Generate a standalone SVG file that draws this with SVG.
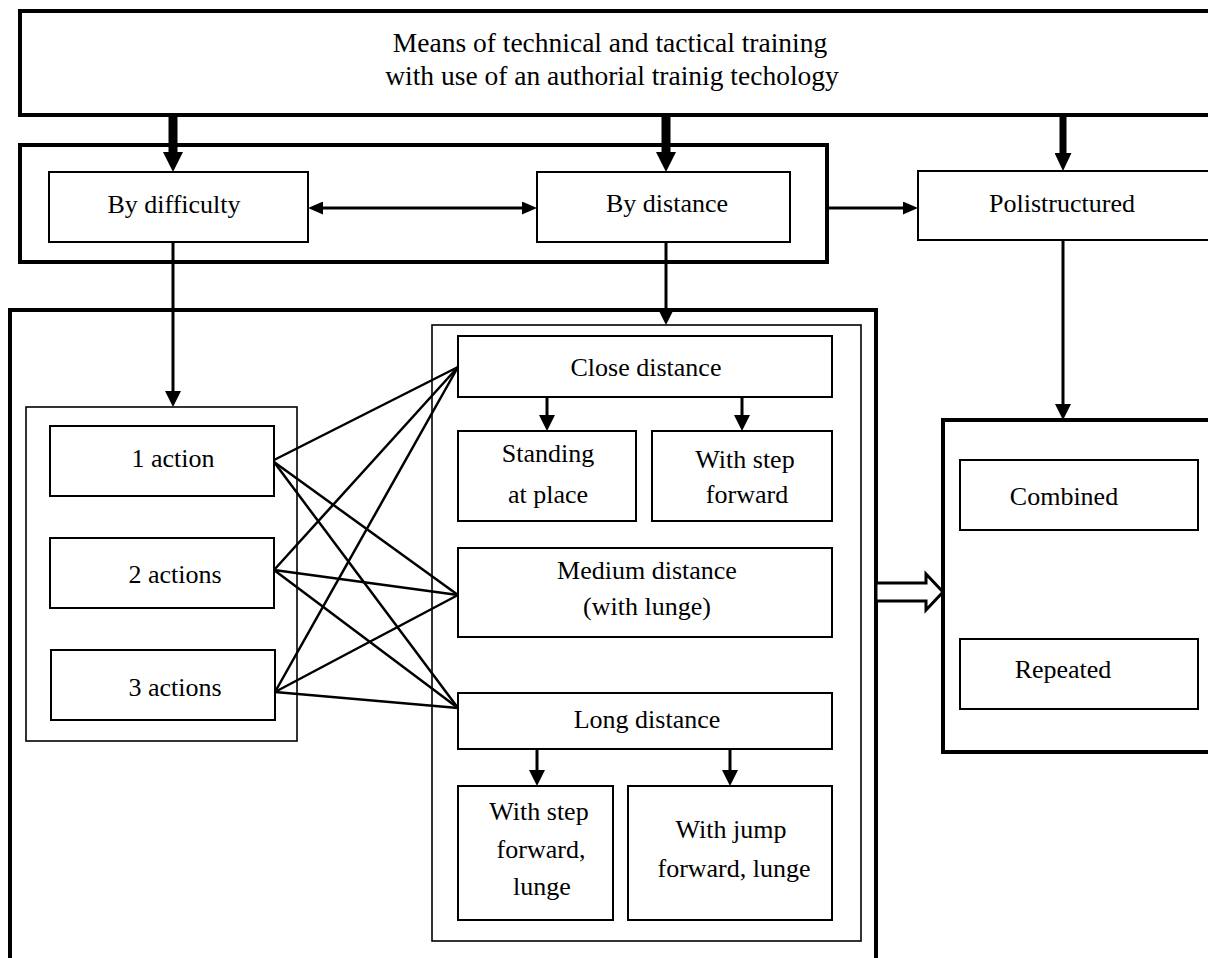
<svg xmlns="http://www.w3.org/2000/svg" width="1208" height="958" viewBox="0 0 1208 958">
<style>
  text { font-family: "Liberation Serif", "Times New Roman", serif; font-size: 26px; fill: #000; text-anchor: middle; }
  .big { font-size: 27.5px; }
  .thick { fill: none; stroke: #000; stroke-width: 4; }
  .box { fill: #fff; stroke: #000; stroke-width: 2; }
  .thin { fill: none; stroke: #000; stroke-width: 1.6; }
  .link { fill: none; stroke: #000; stroke-width: 2.5; }
  .arr { fill: none; stroke: #000; stroke-width: 3; }
</style>
<defs>
  <marker id="mBig" markerUnits="userSpaceOnUse" viewBox="0 0 20 20" markerWidth="20" markerHeight="20" refX="0" refY="10" orient="auto">
    <path d="M0,0 L20,10 L0,20 z" fill="#000"/>
  </marker>
  <marker id="mBig2" markerUnits="userSpaceOnUse" viewBox="0 0 18 17" markerWidth="18" markerHeight="17" refX="0" refY="8.5" orient="auto">
    <path d="M0,0 L18,8.5 L0,17 z" fill="#000"/>
  </marker>
  <marker id="mMed" markerUnits="userSpaceOnUse" viewBox="0 0 16 16" markerWidth="16" markerHeight="16" refX="0" refY="8" orient="auto">
    <path d="M0,0 L16,8 L0,16 z" fill="#000"/>
  </marker>
  <marker id="mH" markerUnits="userSpaceOnUse" viewBox="0 0 15 13" markerWidth="15" markerHeight="13" refX="0" refY="6.5" orient="auto-start-reverse">
    <path d="M0,0 L15,6.5 L0,13 z" fill="#000"/>
  </marker>
</defs>

<!-- containers -->
<g id="top">
  <rect class="thick" x="20" y="11" width="1200" height="104"/>
  <text class="big" x="610" y="52">Means of technical and tactical training</text>
  <text class="big" x="612" y="85">with use of an authorial trainig techology</text>
</g>
<g id="group-top">
  <rect class="thick" x="20" y="145" width="807" height="117"/>
</g>
<g id="outer-bottom">
  <rect class="thick" x="10" y="310" width="866" height="660"/>
</g>
<g id="group-actions">
  <rect class="thin" x="26" y="407" width="271" height="334"/>
</g>
<g id="group-distances">
  <rect class="thin" x="432" y="325" width="429" height="616"/>
</g>
<g id="group-poli">
  <rect class="thick" x="943" y="420" width="280" height="332"/>
</g>

<!-- nodes -->
<g id="by-difficulty">
  <rect class="box" x="49" y="172" width="259" height="70"/>
  <text x="174" y="213">By difficulty</text>
</g>
<g id="by-distance">
  <rect class="box" x="537" y="172" width="253" height="70"/>
  <text x="667" y="212">By distance</text>
</g>
<g id="polistructured">
  <rect class="box" x="918" y="171" width="300" height="69"/>
  <text x="1062" y="212">Polistructured</text>
</g>
<g id="action1">
  <rect class="box" x="50" y="426" width="224" height="70"/>
  <text x="173" y="467">1 action</text>
</g>
<g id="action2">
  <rect class="box" x="50" y="538" width="224" height="70"/>
  <text x="175" y="583">2 actions</text>
</g>
<g id="action3">
  <rect class="box" x="51" y="650" width="224" height="70"/>
  <text x="175" y="696">3 actions</text>
</g>
<g id="close">
  <rect class="box" x="458" y="336" width="374" height="61"/>
  <text x="646" y="376">Close distance</text>
</g>
<g id="standing">
  <rect class="box" x="458" y="431" width="178" height="90"/>
  <text x="548" y="462">Standing</text>
  <text x="548" y="503">at place</text>
</g>
<g id="step-forward">
  <rect class="box" x="652" y="431" width="180" height="90"/>
  <text x="745" y="468">With step</text>
  <text x="747" y="503">forward</text>
</g>
<g id="medium">
  <rect class="box" x="458" y="548" width="374" height="89"/>
  <text x="647" y="579">Medium distance</text>
  <text x="647" y="615">(with lunge)</text>
</g>
<g id="long">
  <rect class="box" x="458" y="693" width="374" height="56"/>
  <text x="647" y="728">Long distance</text>
</g>
<g id="step-lunge">
  <rect class="box" x="458" y="786" width="155" height="134"/>
  <text x="539" y="820">With step</text>
  <text x="541" y="858">forward,</text>
  <text x="542" y="895">lunge</text>
</g>
<g id="jump-lunge">
  <rect class="box" x="628" y="786" width="204" height="134"/>
  <text x="731" y="838">With jump</text>
  <text x="734" y="877">forward, lunge</text>
</g>
<g id="combined">
  <rect class="box" x="960" y="460" width="238" height="70"/>
  <text x="1064" y="505">Combined</text>
</g>
<g id="repeated">
  <rect class="box" x="960" y="639" width="238" height="70"/>
  <text x="1063" y="678">Repeated</text>
</g>

<!-- connectors -->
<g id="connectors">
  <line x1="173" y1="115" x2="173" y2="152" stroke="#000" stroke-width="9" marker-end="url(#mBig)"/>
  <line x1="666" y1="115" x2="666" y2="152" stroke="#000" stroke-width="9" marker-end="url(#mBig)"/>
  <line x1="1063" y1="115" x2="1063" y2="153" stroke="#000" stroke-width="7" marker-end="url(#mBig2)"/>

  <line class="arr" x1="323" y1="208" x2="522" y2="208" marker-start="url(#mH)" marker-end="url(#mH)"/>
  <line class="arr" x1="827" y1="208" x2="903" y2="208" marker-end="url(#mH)"/>

  <line class="arr" x1="173" y1="242" x2="173" y2="391" marker-end="url(#mMed)"/>
  <line class="arr" x1="666" y1="242" x2="666" y2="309" marker-end="url(#mMed)"/>
  <line class="arr" x1="1063" y1="240" x2="1063" y2="404" marker-end="url(#mMed)"/>

  <line class="arr" x1="547" y1="397" x2="547" y2="415" stroke-width="3.5" marker-end="url(#mMed)"/>
  <line class="arr" x1="742" y1="397" x2="742" y2="415" stroke-width="3.5" marker-end="url(#mMed)"/>
  <line class="arr" x1="537" y1="749" x2="537" y2="770" stroke-width="3.5" marker-end="url(#mMed)"/>
  <line class="arr" x1="730" y1="749" x2="730" y2="770" stroke-width="3.5" marker-end="url(#mMed)"/>

  <line class="link" x1="274" y1="460" x2="458" y2="367"/>
  <line class="link" x1="274" y1="462" x2="458" y2="595"/>
  <line class="link" x1="274" y1="462" x2="458" y2="708"/>
  <line class="link" x1="274" y1="570" x2="458" y2="367"/>
  <line class="link" x1="274" y1="570" x2="458" y2="595"/>
  <line class="link" x1="274" y1="570" x2="458" y2="708"/>
  <line class="link" x1="275" y1="692" x2="458" y2="367"/>
  <line class="link" x1="275" y1="692" x2="458" y2="595"/>
  <line class="link" x1="275" y1="692" x2="458" y2="708"/>

  <polygon points="876,583 926,583 926,574 943,592 926,610 926,601 876,601" fill="#fff" stroke="#000" stroke-width="3" stroke-linejoin="miter"/>
</g>
</svg>
